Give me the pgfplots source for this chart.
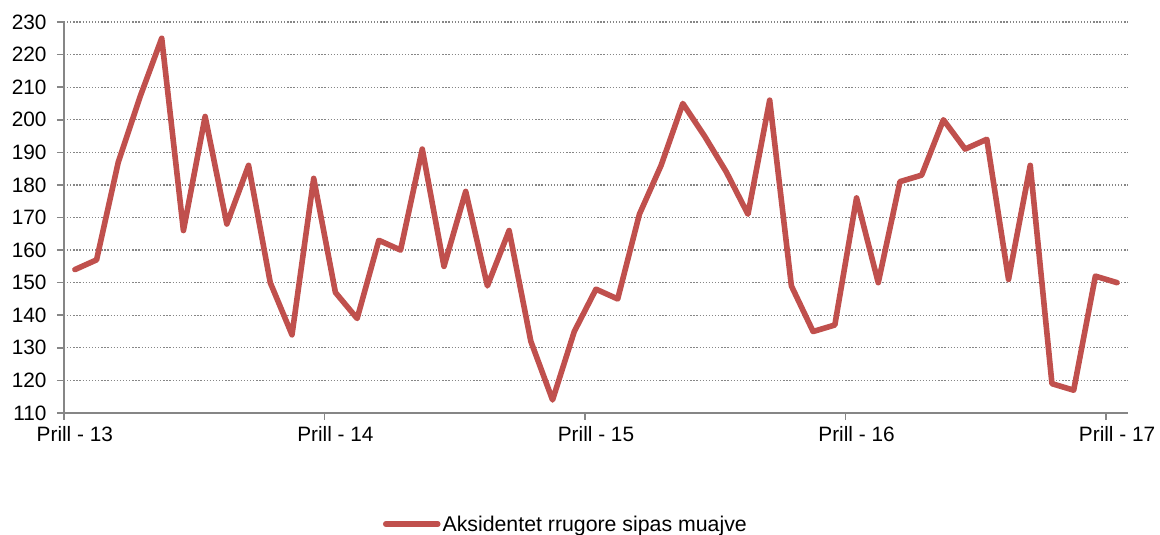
\documentclass[border=0pt]{standalone}
\usepackage{pgfplots}
\pgfplotsset{compat=1.18}
\usepackage{fontspec}
\setmainfont{Liberation Sans}
\definecolor{linered}{HTML}{C0504D}
\definecolor{axgray}{HTML}{868686}
\pgfplotstableread{
x y
0.5 154
1.5 157
2.5 187
3.5 207
4.5 225
5.5 166
6.5 201
7.5 168
8.5 186
9.5 150
10.5 134
11.5 182
12.5 147
13.5 139
14.5 163
15.5 160
16.5 191
17.5 155
18.5 178
19.5 149
20.5 166
21.5 132
22.5 114
23.5 135
24.5 148
25.5 145
26.5 171
27.5 186
28.5 205
29.5 195
30.5 184
31.5 171
32.5 206
33.5 149
34.5 135
35.5 137
36.5 176
37.5 150
38.5 181
39.5 183
40.5 200
41.5 191
42.5 194
43.5 151
44.5 186
45.5 119
46.5 117
47.5 152
48.5 150
}\datatable
\begin{document}
\begin{tikzpicture}
\useasboundingbox (0,0) rectangle (1160pt,535pt);
\begin{axis}[
  at={(64pt,122pt)}, anchor=south west,
  scale only axis,
  width=1064pt, height=391pt,
  xmin=0, xmax=49, ymin=110, ymax=230,
  axis x line*=bottom, axis y line*=left,
  axis line style={draw=axgray, line width=1.6pt, -},
  ytick={110,120,...,230},
  xtick={0.5,12.5,24.5,36.5,48.5},
  xticklabels={Prill - 13,Prill - 14,Prill - 15,Prill - 16,Prill - 17},
  minor xtick={0,12,24,36,48},
  tick align=outside,
  major tick length=7pt, minor tick length=7pt,
  major x tick style={draw=none},
  minor x tick style={draw=axgray, line width=1.6pt},
  major y tick style={draw=axgray, line width=1.6pt},
  ymajorgrids,
  major grid style={draw=axgray, line width=1.2pt, dash pattern=on 1.3pt off 1.8pt},
  tick label style={font=\fontsize{20.8}{24}\selectfont, text=black},
  /pgf/number format/assume math mode=true,
  yticklabel style={xshift=-7pt},
  xticklabel style={yshift=-3pt},
  clip=false,
  legend style={draw=none, fill=none, at={(0.2998,-0.284)}, anchor=west,
    font=\fontsize{21.3}{24}\selectfont, inner sep=0pt, outer sep=0pt},
  legend image code/.code={\draw[#1, line cap=round] (0pt,0pt) -- (52pt,0pt);},
]
\addplot[linered, line width=5.6pt, line join=round, line cap=round] table[x=x, y=y] {\datatable};
\addlegendentry{Aksidentet rrugore sipas muajve}
\end{axis}
\end{tikzpicture}
\end{document}
